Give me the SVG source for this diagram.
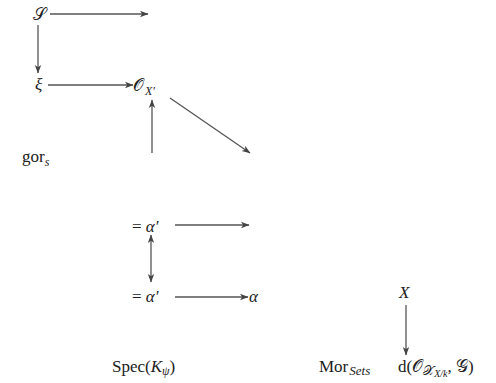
<svg xmlns="http://www.w3.org/2000/svg" width="496" height="383" viewBox="0 0 496 383">
<style>
text{font-family:"Liberation Serif","DejaVu Serif",serif;fill:#222;font-size:17px}
.it{font-style:italic}
.sub{font-size:12px}
.cal{font-family:"DejaVu Sans","Noto Sans",serif;font-style:normal}
line{stroke:#555;stroke-width:1.3;fill:none}
.a{marker-end:url(#ah)}
.d{marker-start:url(#ah);marker-end:url(#ah)}
</style>
<defs>
<marker id="ah" markerUnits="userSpaceOnUse" markerWidth="10" markerHeight="8" refX="8" refY="4" orient="auto-start-reverse">
<path d="M0,0.8 L8.5,4 L0,7.2 L2.2,4 z" fill="#444"/>
</marker>
</defs>
<rect width="496" height="383" fill="#fff"/>
<g id="connectors">
<line class="a" x1="50" y1="14" x2="148" y2="14"/>
<line class="a" x1="38" y1="25" x2="38" y2="73"/>
<line class="a" x1="48" y1="85" x2="133" y2="85"/>
<line class="a" x1="152" y1="153" x2="152" y2="100"/>
<line class="a" x1="170" y1="98" x2="250" y2="153"/>
<line class="a" x1="175" y1="225" x2="249" y2="225"/>
<line class="d" x1="151" y1="235" x2="151" y2="282"/>
<line class="a" x1="175" y1="297" x2="248" y2="297"/>
<line class="a" x1="406" y1="305" x2="406" y2="355"/>
</g>
<g id="n-S"><text x="33" y="20" class="cal" font-size="18">𝒮</text></g>
<g id="n-xi"><text x="35" y="90" class="it">ξ</text></g>
<g id="n-OX"><text x="133" y="91"><tspan class="cal">𝒪</tspan><tspan class="it sub" dy="4" dx="1">X′</tspan></text></g>
<g id="n-gor"><text x="22" y="162">gor<tspan class="it sub" dy="4">s</tspan></text></g>
<g id="n-a1"><text x="132" y="232">= <tspan class="it">α′</tspan></text></g>
<g id="n-a2"><text x="132" y="302">= <tspan class="it">α′</tspan></text></g>
<g id="n-alpha"><text x="249" y="302" class="it">α</text></g>
<g id="n-X"><text x="399" y="298" class="it">X</text></g>
<g id="n-spec"><text x="112" y="372">Spec(<tspan class="it">K</tspan><tspan class="it sub" dy="3">ψ</tspan><tspan dy="-3">)</tspan></text></g>
<g id="n-mor"><text x="319" y="372">Mor<tspan class="it" font-size="13" dy="3" dx="1">Sets</tspan></text></g>
<g id="n-d"><text x="398" y="372">d(<tspan class="cal">𝒪</tspan><tspan class="cal" font-size="13" dy="3">𝒳</tspan><tspan class="it" font-size="10" dy="2">X/k</tspan><tspan dy="-5">, </tspan><tspan class="cal">𝒢</tspan>)</text></g>
</svg>
